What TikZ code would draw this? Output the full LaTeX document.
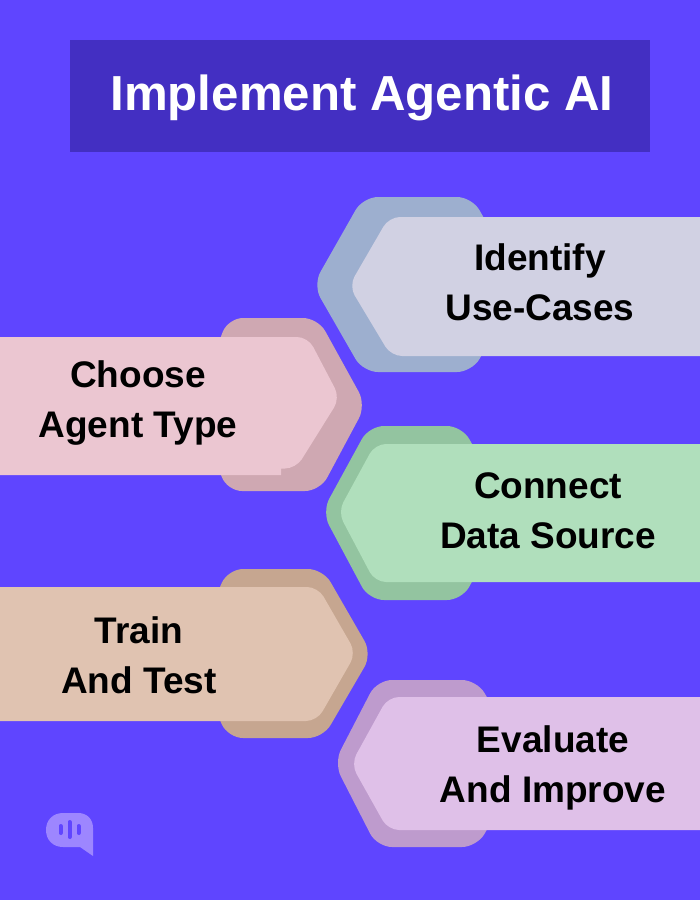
\documentclass[tikz,border=0pt]{standalone}
\usepackage{fontspec}
\setmainfont{Liberation Sans}
\definecolor{pagebg}{HTML}{5F45FF}
\definecolor{headbg}{HTML}{432FC2}
\definecolor{blueback}{HTML}{9DAFCF}
\definecolor{bluefront}{HTML}{D1D1E3}
\definecolor{pinkback}{HTML}{CFA8B2}
\definecolor{pinkfront}{HTML}{EBC6D1}
\definecolor{greenback}{HTML}{93C4A0}
\definecolor{greenfront}{HTML}{B0DFBC}
\definecolor{tanback}{HTML}{C6A690}
\definecolor{tanfront}{HTML}{E0C3B1}
\definecolor{lilacback}{HTML}{BE9BCD}
\definecolor{lilacfront}{HTML}{DFC0E8}
\definecolor{logofill}{HTML}{9D86FF}

\begin{document}
\begin{tikzpicture}[x=1pt, y=-1pt]

\tikzset{backhex/.style={rounded corners=15pt}}
\tikzset{fronthex/.style={rounded corners=11pt}}
\tikzset{steplabel/.style={font=\fontsize{37}{50}\selectfont\bfseries, align=center, text=black, inner sep=0}}
\tikzset{logobar/.style={line width=4, line cap=round, color=pagebg}}

\useasboundingbox (0,0) rectangle (700,900);
\clip (0,0) rectangle (700,900);
\fill[pagebg] (0,0) rectangle (700,900);

\node[fill=headbg, minimum width=580, minimum height=112, inner sep=0] (head) at (360,96) {};
\node[font=\fontsize{49.2}{50}\selectfont\bfseries, text=white, inner sep=0] (title) at (362,98) {Implement Agentic AI};

% right side, top
\fill[blueback, backhex] (363,197) -- (313,285) -- (363,372) -- (472,372) -- (522,285) -- (472,197) -- cycle;
\fill[bluefront, fronthex] (730,217) -- (389,217) -- (349,286) -- (391,356) -- (730,356);
\node[steplabel] (identify) at (540,282) {Identify\\Use-Cases};

% left side, top
\fill[pinkback, backhex] (228,318) -- (195,405) -- (227,491) -- (320,491) -- (366,405) -- (318,318) -- cycle;
\fill[pinkfront, rounded corners=11pt] (-30,337) -- (308,337) -- (340,398) -- (296,468.5) [sharp corners] -- (281,468.5) -- (281,475) -- (-30,475) -- cycle;
\node[steplabel] (choose) at (138,403) {Choose\\Agent Type};

% right side, middle
\fill[greenback, backhex] (369,426) -- (322,512) -- (369,600) -- (462,600) -- (510,512) -- (462,426) -- cycle;
\fill[greenfront, fronthex] (730,444) -- (375,444) -- (338,512) -- (375,582) -- (730,582);
\node[steplabel] (connect) at (548,511) {Connect\\Data Source};

% left side, lower
\fill[tanback, backhex] (228,569) -- (190,654) -- (228,738) -- (323,738) -- (372,654) -- (323,569) -- cycle;
\fill[tanfront, fronthex] (-30,587) -- (318,587) -- (356,653) -- (317,721) -- (-30,721);
\node[steplabel] (train) at (139,655) {Train\\And Test};

% right side, bottom
\fill[lilacback, backhex] (377,680) -- (334,763) -- (377,847) -- (477,847) -- (525,763) -- (477,680) -- cycle;
\fill[lilacfront, fronthex] (730,697) -- (388,697) -- (351,764) -- (388,830) -- (730,830);
\node[steplabel] (evaluate) at (553,768) {Evaluate\\And Improve};

% logo
\fill[logofill] (93,856) -- (80,847) -- (63,847) .. controls (53,847) and (46,840) .. (46,830) .. controls (46,820) and (53,813) .. (63,813) -- (78,813) .. controls (87,813) and (93,819) .. (93,828) -- cycle;
\coordinate (bar1top) at (60.5,826);
\coordinate (bar1bot) at (60.5,833);
\coordinate (bar2top) at (69.5,822);
\coordinate (bar2bot) at (69.5,837);
\coordinate (bar3top) at (78.5,826);
\coordinate (bar3bot) at (78.5,833);
\draw[logobar] (bar1top) -- (bar1bot);
\draw[logobar] (bar2top) -- (bar2bot);
\draw[logobar] (bar3top) -- (bar3bot);

\end{tikzpicture}
\end{document}
